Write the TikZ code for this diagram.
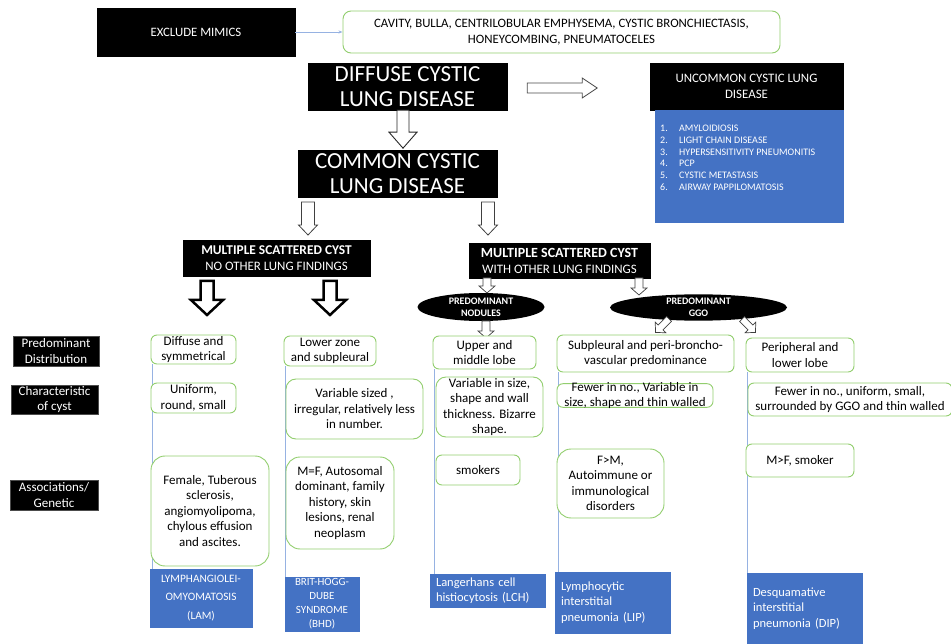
\documentclass[tikz,border=0pt]{standalone}
\usepackage{fontspec}
\setmainfont{Carlito}
\usetikzlibrary{shapes.geometric,arrows.meta,backgrounds}
\definecolor{boxgreen}{RGB}{146,206,110}
\definecolor{fillblue}{RGB}{68,114,196}
\definecolor{lineblue}{RGB}{150,178,226}
\newcommand{\fs}[2]{\fontsize{#1}{#2}\selectfont}
\tikzset{
  blackbox/.style={draw=black, fill=black, text=white, align=center, inner sep=0pt},
  greenbox/.style={draw=boxgreen, line width=0.9pt, fill=white, rounded corners=6pt,
    align=center, inner sep=0pt, font=\fs{13}{15.5}},
  bigbox/.style={greenbox, rounded corners=14pt},
  bluebox/.style={draw=fillblue, fill=fillblue, text=white, align=center, inner sep=0pt},
  leftblue/.style={bluebox, align=left, inner xsep=6pt, font=\fs{12.5}{15.5}},
  rowlabel/.style={blackbox, draw=black!70, font=\fs{13}{15.5}},
  oval/.style={ellipse, fill=black, text=white, align=center, inner sep=0pt,
    font=\bfseries\fs{10}{12}},
  vline/.style={draw=lineblue, line width=0.8pt},
  pics/blockarrow/.style args={#1/#2/#3/#4}{code={
    \draw[fill=white, line join=miter, pic actions] (-#2,0) -- (#2,0) -- (#2,{#1-#4})
      -- (#3,{#1-#4}) -- (0,#1) -- (-#3,{#1-#4}) -- (-#2,{#1-#4}) -- cycle;
  }}
}
\begin{document}
\begin{tikzpicture}[x=1pt,y=-1pt]
\useasboundingbox (0,0) rectangle (951,644);

% top
\node[blackbox, minimum width=198, minimum height=48, font=\fs{12.8}{15}] (exclude) at (196,32) {EXCLUDE MIMICS};
\node[greenbox, rounded corners=8pt, minimum width=437, minimum height=42, font=\fs{12.8}{16.5}] (mimics) at (561.5,32)
  {CAVITY, BULLA, CENTRILOBULAR EMPHYSEMA, CYSTIC BRONCHIECTASIS,\\HONEYCOMBING, PNEUMATOCELES};
\draw[draw=lineblue, line width=0.8pt, -{Stealth[length=4pt,width=3pt]}] (exclude) -- (mimics);

\node[blackbox, minimum width=199, minimum height=47, font=\fs{23}{25}] (diffuse) at (407.5,86.5) {DIFFUSE CYSTIC\\LUNG DISEASE};
\node[blackbox, minimum width=199, minimum height=47, font=\fs{23}{25}] (common) at (397.5,173.5) {COMMON CYSTIC\\LUNG DISEASE};
\node[blackbox, minimum width=193, minimum height=47, font=\fs{12.9}{15.5}] (uncommon) at (746.5,86.5) {UNCOMMON CYSTIC LUNG\\DISEASE};
\node[bluebox, anchor=north west] (ulist) at (655,110) {\parbox[c][112pt][t]{188pt}{\fs{10}{11.7}\raggedright
  \vspace*{15pt}\leftskip=5pt
  \makebox[19pt][l]{1.}AMYLOIDIOSIS\\
  \makebox[19pt][l]{2.}LIGHT CHAIN DISEASE\\
  \makebox[19pt][l]{3.}HYPERSENSITIVITY PNEUMONITIS\\
  \makebox[19pt][l]{4.}PCP\\
  \makebox[19pt][l]{5.}CYSTIC METASTASIS\\
  \makebox[19pt][l]{6.}AIRWAY PAPPILOMATOSIS}};

\pic[draw=black!85, line width=0.9pt] at ([xshift=-4.5pt]diffuse.south) {blockarrow=38/6/14/16};
\pic[draw=black!70, line width=0.8pt, rotate=90] at ([xshift=20pt,yshift=-1.5pt]diffuse.east) {blockarrow=70/5/10/15};

% second level
\node[blackbox, minimum width=187, minimum height=36, font=\fs{12.9}{16}] (noother) at (276.5,258)
  {\fs{13.4}{16}\textbf{MULTIPLE SCATTERED CYST}\\NO OTHER LUNG FINDINGS};
\node[blackbox, minimum width=181, minimum height=35, font=\fs{12.9}{16}] (withother) at (559.5,260.5)
  {\fs{14}{16}\textbf{MULTIPLE SCATTERED CYST}\\WITH OTHER LUNG FINDINGS};
\pic[draw=black!75, line width=0.8pt] at (308,202) {blockarrow=33/6.5/9.5/10};
\pic[draw=black!75, line width=0.8pt] at (488,202) {blockarrow=33/6.5/9.5/10};

\node[oval, minimum width=127, minimum height=28] (nodules) at (481,307) {PREDOMINANT\\NODULES};
\node[oval, minimum width=177, minimum height=25] (ggo) at (698.5,307.5) {PREDOMINANT\\GGO};
\pic[draw=black!75, line width=0.7pt] at (487,278) {blockarrow=15/4/8/7};
\pic[draw=black!75, line width=0.7pt] at (639,278) {blockarrow=17/4/8/7};
\pic[draw=black!75, line width=0.7pt] at (486,321) {blockarrow=17/4/8/7};
\pic[draw=black!75, line width=0.7pt, rotate=-45] at (669,319) {blockarrow=19/3.5/7.5/7};
\pic[draw=black!75, line width=0.7pt, rotate=45] at (742,319) {blockarrow=19/3.5/7.5/7};

\pic[draw=black, line width=2.5pt] at (207,281) {blockarrow=34/6.5/16/15};
\pic[draw=black, line width=2.5pt] at (330,281) {blockarrow=34/6.5/16/15};

% row labels
\node[rowlabel, minimum width=86, minimum height=30] (rowdist) at (56,351) {Predominant\\Distribution};
\node[rowlabel, minimum width=87, minimum height=29] (rowcyst) at (54.5,399.5) {Characteristic\\of cyst};
\node[rowlabel, minimum width=88, minimum height=30] (rowassoc) at (54,495) {Associations/\\Genetic};

% LAM
\node[greenbox, minimum width=85, minimum height=29] (lamdist) at (193.5,349.5) {Diffuse and\\symmetrical};
\node[greenbox, minimum width=85, minimum height=30] (lamcyst) at (193.5,398) {Uniform,\\round, small};
\node[bigbox, minimum width=118, minimum height=110] (lamassoc) at (210,511)
  {Female, Tuberous\\sclerosis,\\angiomyolipoma,\\chylous effusion\\and ascites.};
\node[bluebox, minimum width=102, minimum height=58, font=\fs{11.3}{18.5}] (lam) at (201,598) {LYMPHANGIOLEI-\\OMYOMATOSIS\\(LAM)};

% BHD
\node[greenbox, minimum width=92, minimum height=30] (bhddist) at (330,351) {Lower zone\\and subpleural};
\node[greenbox, rounded corners=10pt, minimum width=137, minimum height=60] (bhdcyst) at (354.5,409)
  {Variable sized ,\\irregular, relatively less\\in number.};
\node[bigbox, minimum width=108, minimum height=92] (bhdassoc) at (340,503)
  {M=F, Autosomal\\dominant, family\\history, skin\\lesions, renal\\neoplasm};
\node[bluebox, minimum width=74, minimum height=54, font=\fs{11}{14}] (bhd) at (322,604) {BRIT-HOGG-\\DUBE\\SYNDROME\\(BHD)};

% LCH
\node[greenbox, minimum width=103, minimum height=33] (lchdist) at (484.5,352.5) {Upper and\\middle lobe};
\node[greenbox, rounded corners=10pt, minimum width=107, minimum height=60] (lchcyst) at (489.5,407)
  {Variable in size,\\shape and wall\\thickness. Bizarre\\shape.};
\node[greenbox, minimum width=84, minimum height=30] (lchassoc) at (478,470) {smokers};
\node[leftblue, text width=103, minimum height=33] (lch) at (487.5,590.5) {Langerhans cell\\histiocytosis (LCH)};

% LIP
\node[greenbox, minimum width=177, minimum height=37] (lipdist) at (645.5,353.5)
  {Subpleural and peri-broncho-\\vascular predominance};
\node[greenbox, minimum width=156, inner ysep=-1.5pt] (lipcyst) at (635,395.5)
  {Fewer in no., Variable in\\size, shape and thin walled};
\node[bigbox, minimum width=107, minimum height=69] (lipassoc) at (610.5,483.5)
  {F>M,\\Autoimmune or\\immunological\\disorders};
\node[leftblue, text width=103, minimum height=61] (lip) at (612.5,602.5) {Lymphocytic\\interstitial\\pneumonia (LIP)};

% DIP
\node[greenbox, minimum width=108, minimum height=34] (dipdist) at (800,355) {Peripheral and\\lower lobe};
\node[greenbox, minimum width=204, minimum height=33] (dipcyst) at (850,399.5)
  {Fewer in no., uniform, small,\\surrounded by GGO and thin walled};
\node[greenbox, minimum width=108, minimum height=33] (dipassoc) at (800,460.5) {M>F, smoker};
\node[leftblue, text width=103, minimum height=71] (dip) at (804.5,608.5) {Desquamative\\interstitial\\pneumonia (DIP)};

\begin{scope}[on background layer]
\foreach \t/\b in {lamdist/lam, bhddist/bhd, lchdist/lch, lipdist/lip, dipdist/dip}
  \draw[vline] ([xshift=1.5pt]\t.south west) coordinate (top) -- (top |- \b.north);
\end{scope}
\end{tikzpicture}
\end{document}
